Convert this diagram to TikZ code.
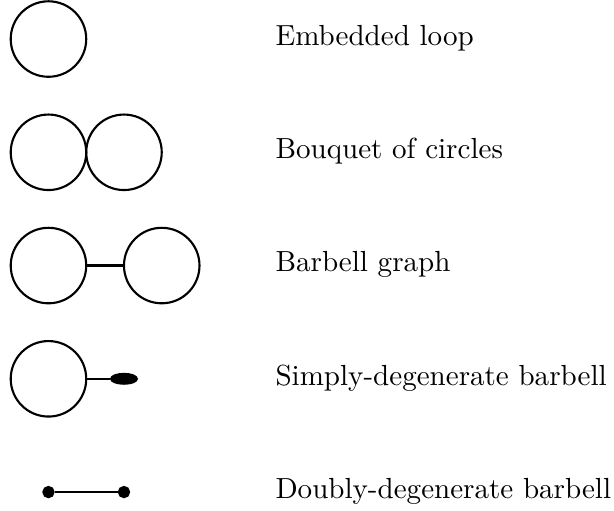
\documentclass[tikz,border=0pt]{standalone}
\usetikzlibrary{shapes.geometric}
\begin{document}
\begin{tikzpicture}[
  loopc/.style={draw, thick, circle, minimum size=1cm, inner sep=0pt},
  dotc/.style={draw, thick, fill=black, circle, minimum size=0.135cm, inner sep=0pt},
  blob/.style={draw, thick, fill=black, ellipse, minimum width=0.34cm, minimum height=0.13cm, inner sep=0pt},
  edge/.style={thick},
  lab/.style={anchor=base west, inner sep=0pt, font=\fontsize{10.95}{13}\selectfont}
]
\useasboundingbox (-0.642,-6.238) rectangle (7.490,0.517);
% row 1
\node[loopc] (e1) at (0,0) {};
\node[lab] (t1) at (3.0,-0.085) {Embedded loop};
% row 2
\node[loopc] (b1) at (0,-1.5) {};
\node[loopc] (b2) at (1,-1.5) {};
\node[lab] (t2) at (3.0,-1.585) {Bouquet of circles};
% row 3
\node[loopc] (g1) at (0,-3) {};
\node[loopc] (g2) at (1.5,-3) {};
\draw[edge] (g1.east) -- (g2.west);
\node[lab] (t3) at (3.0,-3.085) {Barbell graph};
% row 4
\node[loopc] (s1) at (0,-4.5) {};
\node[blob] (s2) at (1.0,-4.5) {};
\draw[edge] (s1.east) -- (s2.west);
\node[lab] (t4) at (3.0,-4.585) {Simply-degenerate barbell};
% row 5
\node[dotc] (d1) at (0,-6) {};
\node[dotc] (d2) at (1,-6) {};
\draw[edge] (d1) -- (d2);
\node[lab] (t5) at (3.0,-6.085) {Doubly-degenerate barbell};
\end{tikzpicture}
\end{document}
